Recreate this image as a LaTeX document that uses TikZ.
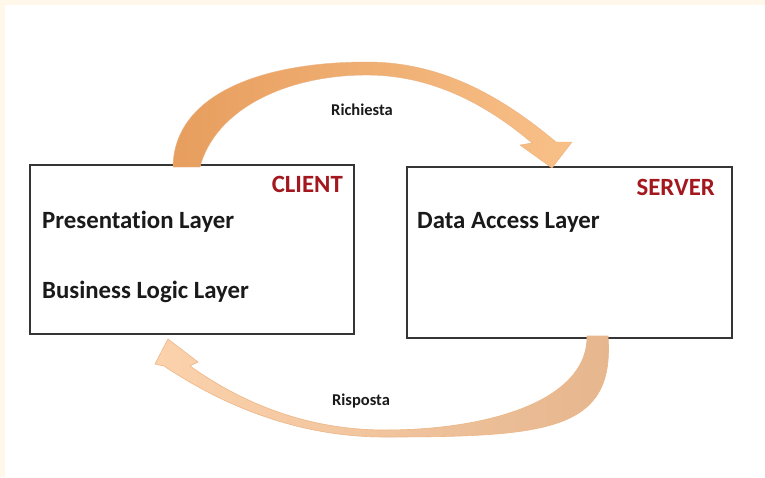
\documentclass[tikz,border=0pt]{standalone}
\usepackage{fontspec}
\setmainfont{Carlito}[Ligatures=NoCommon]
\usetikzlibrary{calc}
\definecolor{paper}{HTML}{FFF7EA}
\definecolor{inkdark}{HTML}{1A1A1A}
\definecolor{tierred}{HTML}{A3181E}
\definecolor{boxline}{HTML}{353535}
\definecolor{reqdeep}{HTML}{E79E5E}
\definecolor{reqlight}{HTML}{F8C088}
\definecolor{resplight}{HTML}{FBD2AC}
\definecolor{respdeep}{HTML}{E6B68E}
\begin{document}
\begin{tikzpicture}[x=1pt,y=-1pt,
  layerbox/.style={draw=boxline, line width=1.6pt, fill=white, inner sep=0pt, outer sep=0pt},
  layer/.style={text=inkdark, font=\fontsize{24.8}{26}\selectfont\bfseries, inner sep=0pt},
  tier/.style={text=tierred, font=\fontsize{24.8}{26}\selectfont\bfseries, inner sep=0pt},
  flow/.style={text=inkdark, font=\fontsize{16.5}{18}\selectfont\bfseries, inner sep=0pt},
  reqarrow/.style={left color=reqdeep, right color=reqlight, draw=reqdeep!80!white, line width=0.4pt},
  resparrow/.style={left color=resplight, right color=respdeep, draw=reqdeep!75!white, line width=0.6pt}]
\useasboundingbox (0,0) rectangle (765,477);
% page background with a thin cream edge on top and left
\fill[white] (0,0) rectangle (765,477);
\fill[paper] (0,0) rectangle (765,5);
\fill[paper] (0,0) rectangle (5,477);

% the two tiers
\node[layerbox, minimum width=324pt, minimum height=169pt, anchor=north west] (client) at (30,165) {};
\node[layerbox, minimum width=325pt, minimum height=171pt, anchor=north west] (server) at (407,167) {};

\node[tier, anchor=base east] (clientlbl) at (343,192) {CLIENT};
\node[tier, anchor=base east] (serverlbl) at (715,195) {SERVER};
\node[layer, anchor=base west] (pres) at (42,228) {Presentation Layer};
\node[layer, anchor=base west] (biz) at (42,298) {Business Logic Layer};
\node[layer, anchor=base west] (dal) at (417,228) {Data Access Layer};

% request arrow: client -> server, over the top
\coordinate (reqA) at ($(client.north west)+(143,2)$);
\coordinate (reqB) at ($(client.north west)+(170,2)$);
\coordinate (reqTip) at ($(server.north west)+(145,1)$);
\path[reqarrow] (reqA) .. controls (174,95) and (260,62) .. (367,62)
  .. controls (440,62) and (500,95) .. (556,142)
  -- (572,142) -- (reqTip) -- (520,145) -- (532,143)
  .. controls (485,103) and (430,75) .. (367,75)
  .. controls (285,75) and (215,110) .. (reqB) -- cycle;

% response arrow: server -> client, underneath
\coordinate (respA) at ($(server.south west)+(201,-2)$);
\coordinate (respB) at ($(server.south west)+(180,-2)$);
\coordinate (respTip) at ($(client.south west)+(138,5)$);
\path[resparrow] (respA) .. controls (615,430) and (550,437) .. (385,437)
  .. controls (290,437) and (215,400) .. (164,366)
  -- (155,364) -- (respTip) -- (198,362) -- (190,366)
  .. controls (235,398) and (300,430) .. (385,430)
  .. controls (490,430) and (588,400) .. (respB) -- cycle;

\node[flow, anchor=base] (req) at (362,115) {Richiesta};
\node[flow, anchor=base] (resp) at (361,405) {Risposta};
\end{tikzpicture}
\end{document}
